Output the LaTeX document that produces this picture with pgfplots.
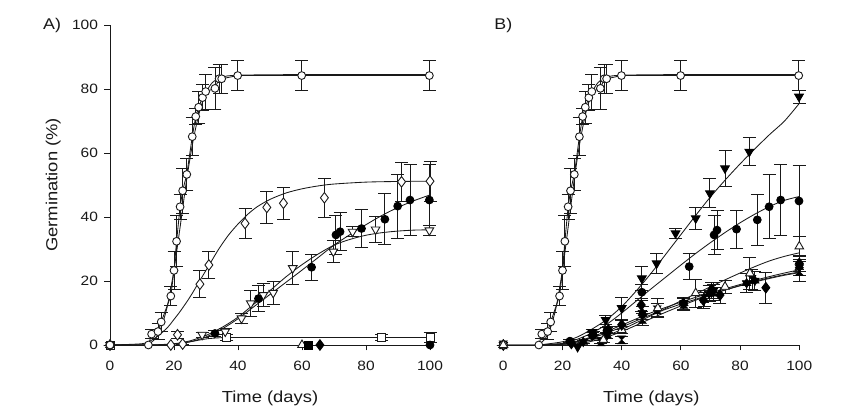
\documentclass[border=0pt]{standalone}
\usepackage{pgfplots}
\pgfplotsset{compat=1.18}
\usepackage{pgfplotstable}
\usepackage{fontspec}
\setmainfont{Liberation Sans}[FakeStretch=1.15]
\usetikzlibrary{plotmarks}

\pgfdeclareplotmark{hexstar}{%
 \pgfpathmoveto{\pgfqpointpolar{90}{\pgfplotmarksize}}%
 \pgfpathlineto{\pgfqpointpolar{210}{\pgfplotmarksize}}%
 \pgfpathlineto{\pgfqpointpolar{330}{\pgfplotmarksize}}%
 \pgfpathclose
 \pgfpathmoveto{\pgfqpointpolar{270}{\pgfplotmarksize}}%
 \pgfpathlineto{\pgfqpointpolar{390}{\pgfplotmarksize}}%
 \pgfpathlineto{\pgfqpointpolar{510}{\pgfplotmarksize}}%
 \pgfpathclose
 \pgfusepathqfillstroke}
\pgfdeclareplotmark{hourglass}{%
 \pgfpathmoveto{\pgfqpoint{-\pgfplotmarksize}{\pgfplotmarksize}}%
 \pgfpathlineto{\pgfqpoint{\pgfplotmarksize}{\pgfplotmarksize}}%
 \pgfpathlineto{\pgfqpoint{-\pgfplotmarksize}{-\pgfplotmarksize}}%
 \pgfpathlineto{\pgfqpoint{\pgfplotmarksize}{-\pgfplotmarksize}}%
 \pgfpathclose
 \pgfusepathqfillstroke}

% control (open circles), shared by A and B
\pgfplotstableread{
x y e
0 0 0
12 0 0
13 3.4 1.5
15 4.2 2.5
16 7.2 3
19 15.3 3
20 23.3 6
20.8 32.4 8
21.9 43.2 4
22.7 48.2 7
24 53.3 5
25.7 65.1 6
26.8 71.4 2.5
27.7 74.3 5
28.9 77.3 4
29.9 79.2 5.5
32.8 80.2 6.5
34.1 83.2 4.5
34.9 83.2 4.5
39.9 84.2 4.7
59.9 84.2 4.8
99.8 84.2 4.8
}\ctrl
% A: open diamonds
\pgfplotstableread{
x y e
0 0 0
19 0 0
21.1 3.2 1
22.7 0.3 0
28.1 19 4.2
30.9 25 4.3
42.2 38 4.7
49 43 5
54.2 44.3 5
67 46 6.2
91.1 51 6
100 51.2 6.2
}\Adia
% A: open inverted triangles
\pgfplotstableread{
x y e
0 0 0
28.8 3.2 0.8
36 4.2 1
41.1 8.3 1.5
44 13 4
47.9 15.6 3.5
51 16.3 3.5
57.1 24 5.2
69.8 29.2 3.5
75.8 35.4 1.5
83 36.1 4
99.8 35.8 1.5
}\Atri
% A: filled circles
\pgfplotstableread{
x y e
0 0 0
32.8 3.6 1
46.4 14.5 4
63 24.3 4
70.6 34.4 6
71.9 35.4 6
78.6 36.4 6
85.9 39.3 8
89.9 43.4 10
93.75 45.3 11
99.8 45.3 11
}\Acirc
% A: open squares
\pgfplotstableread{
x y e
0 0 0
36.5 2.4 1
84.9 2.3 1
100 2.3 1.5
}\Asq
% B: filled inverted triangles
\pgfplotstableread{
x y e
30 4 1
34.6 7.8 1.5
40 11.5 3.4
46.8 20.8 3.6
51.8 25.5 3
58.2 34.9 1.5
65 39.6 3.5
69.8 47.4 4.5
74.9 55.2 5.5
83.1 60.4 4.4
99.9 77.6 2
}\Btri
% B: filled circles
\pgfplotstableread{
x y e
0 0 0
22.5 1.2 0.5
30.4 3.1 1
35 4.5 1
46.8 16.5 2.5
62.8 24.5 4
71.2 34.4 6
72.2 35.9 6
78.8 36.2 6
85.8 39.1 8
89.8 43.2 10
93.7 45.3 11
99.9 45 11
}\Bcirc
% B: open triangles
\pgfplotstableread{
x y e
0 0 0
33.8 1.6 0.8
40 4.7 1.2
52.2 11.5 3
65 16.2 4.4
74.9 18.2 2
83.3 22.4 5
100 30.8 3
}\Bopt
% B: filled diamonds
\pgfplotstableread{
x y e
0 0 0
23 0.5 0.5
30 3 1
35.5 4.7 1
40 6.3 1.5
46.6 12.5 2
60.8 13 2
67.6 14 2.5
70.4 17.2 2.5
73.2 15.6 2.5
88.7 17.9 4.9
100 25.5 2.5
}\Bdia
% B: filled stars
\pgfplotstableread{
x y e
0 0 0
27 1 0.5
35 3 1
47 10 2
61 13 2
69.5 16 2.5
71 17 2.5
82.2 19.3 3
85 20.1 3
100 24.3 2.5
}\Bstar
% B: hourglass
\pgfplotstableread{
x y e
0 0 0
33 1 0.5
40 1.6 1
47 8 2
52 11 2
61 12.7 2
68 14.5 2.5
71 16.5 2.5
84 20.5 3
100 23 3
}\Bhour

\pgfplotsset{
 every axis/.append style={
  scale only axis, height=320pt,
  xmin=0, xmax=100, ymin=0, ymax=100,
  clip=false,
  tick align=outside,
  major tick length=5.5pt,
  xtick={0,20,...,100}, ytick={0,20,...,100},
  minor tick num=0,
  axis line style={line width=0.9pt, black!90},
  tick style={line width=0.9pt, black!90},
  /pgf/number format/assume math mode=true,
  tick label style={font=\fontsize{13.5}{15}\selectfont, text=black!90},
  xticklabel style={yshift=-7pt},
  yticklabel style={xshift=-3pt},
  label style={font=\fontsize{16}{18}\selectfont, text=black!90},
 },
 fit/.style={black!90, line width=0.85pt, smooth, no marks},
 pts/.style={black!90, line width=0.85pt, only marks,
   /pgfplots/error bars/y dir=both,
   /pgfplots/error bars/y explicit,
   /pgfplots/error bars/error bar style={line width=0.85pt, black!90},
   /pgfplots/error bars/error mark options={rotate=90, line width=0.85pt, black!90, mark size=6.5pt}},
 ocirc/.style={mark=*, mark size=3.9pt, mark options={fill=white, draw=black!90, line width=0.9pt}},
 fcirc/.style={mark=*, mark size=3.9pt, mark options={fill=black, draw=black, line width=0.9pt}},
 odia/.style={mark=diamond*, mark size=5.3pt, mark options={fill=white, draw=black!90, line width=0.9pt}},
 fdia/.style={mark=diamond*, mark size=5.3pt, mark options={fill=black, draw=black, line width=0.9pt}},
 otrid/.style={mark=triangle*, mark size=5pt, mark options={rotate=180, fill=white, draw=black!90, line width=0.9pt}},
 ftrid/.style={mark=triangle*, mark size=5pt, mark options={rotate=180, fill=black, draw=black, line width=0.9pt}},
 otriu/.style={mark=triangle*, mark size=5pt, mark options={fill=white, draw=black!90, line width=0.9pt}},
 osq/.style={mark=square*, mark size=4pt, mark options={fill=white, draw=black!90, line width=0.9pt}},
 fsq/.style={mark=square*, mark size=4pt, mark options={fill=black, draw=black, line width=0.9pt}},
 fstar/.style={mark=hexstar, mark size=5pt, mark options={fill=black, draw=black, line width=0.5pt}},
 fhour/.style={mark=hourglass, mark size=4pt, mark options={fill=black, draw=black, line width=0.5pt}},
}

\begin{document}
\begin{tikzpicture}
\path[use as bounding box] (0,0) rectangle (864pt,419pt);

% ================= Panel A =================
\begin{axis}[
  at={(110pt,74pt)}, anchor=south west, width=320pt,
  axis x line*=bottom, axis y line*=left,
  xlabel={Time (days)}, ylabel={Germination (\%)},
  xlabel style={at={(axis description cs:0.5,-0.166)}, anchor=center},
  ylabel style={at={(axis description cs:-0.177,0.5)}, anchor=center},
]
% zero baseline
\addplot[fit, sharp plot] coordinates {(0,0) (100,0)};
% fitted curves
\addplot[fit] coordinates {(0,0) (10,0) (12,0.3) (14,1.8) (16,5.5) (18,12.5) (20,23.5) (22,37.5) (24,52) (26,64) (28,73) (30,78.8) (32,82) (35,83.7) (40,84.3) (60,84.5) (100,84.5)};
\addplot[fit] coordinates {(0,0) (10,0.4) (13,1.5) (15,2.8) (18,5.5) (20,8) (22,10.6) (25,15) (28,20) (31,25) (34,30) (37,34.3) (40,37.8) (43,40.8) (46,43.2) (50,45.5) (55,47.5) (60,48.8) (65,49.7) (70,50.3) (80,50.9) (90,51.1) (100,51.2)};
\addplot[fit] coordinates {(0,0) (12,0) (20,0.4) (25,1.3) (30,3) (35,5.5) (40,8.7) (45,12.8) (50,17) (55,21.3) (60,25.1) (65,28.4) (70,31.2) (75,33) (80,34.3) (85,35.1) (90,35.6) (95,35.9) (100,36)};
\addplot[fit] coordinates {(0,0) (12,0) (20,0.3) (25,1) (30,2.5) (35,5) (40,8.2) (45,12) (50,15.8) (55,19.6) (60,23.4) (65,27.3) (70,31.2) (75,34.5) (80,37.6) (85,40.5) (90,43) (95,45.1) (100,46.9)};
\addplot[fit] coordinates {(0,0) (15,0) (20,0.3) (25,1) (30,1.9) (35,2.3) (40,2.35) (70,2.35) (100,2.35)};
% control: points joined by straight lines
\addplot[black!90, line width=0.85pt, sharp plot, no marks] table[x=x, y=y] {\ctrl};
% data with error bars
\addplot[pts, osq] table[x=x, y=y, y error=e] {\Asq};
\addplot[pts, otrid] table[x=x, y=y, y error=e] {\Atri};
\addplot[pts, fcirc] table[x=x, y=y, y error=e] {\Acirc};
\addplot[pts, odia] table[x=x, y=y, y error=e] {\Adia};
\addplot[pts, ocirc] table[x=x, y=y, y error=e] {\ctrl};
% treatments with no germination
\addplot[black, only marks, otriu] coordinates {(0,0) (60,0)};
\addplot[black, only marks, fsq] coordinates {(62,0)};
\addplot[black, only marks, fdia] coordinates {(65.6,0)};
\addplot[black, only marks, fcirc] coordinates {(100,0)};
\addplot[black, only marks, ocirc] coordinates {(0,0)};
\node[font=\fontsize{15.5}{18}\selectfont, text=black!90, anchor=center] at (axis description cs:-0.181,1.0) {A)};
\end{axis}

% ================= Panel B =================
\begin{axis}[
  at={(503.3pt,74pt)}, anchor=south west, width=296pt,
  axis x line*=bottom, axis y line=none,
  xlabel={Time (days)},
  xlabel style={at={(axis description cs:0.5,-0.166)}, anchor=center},
]
\addplot[fit, sharp plot] coordinates {(0,0) (100,0)};
% fitted curves
\addplot[fit] coordinates {(0,0) (10,0) (12,0.3) (14,1.8) (16,5.5) (18,12.5) (20,23.5) (22,37.5) (24,52) (26,64) (28,73) (30,78.8) (32,82) (35,83.7) (40,84.3) (60,84.5) (100,84.5)};
\addplot[fit] coordinates {(12,0) (20,1) (25,2.5) (30,5) (35,8) (40,12) (45,17) (50,22.5) (55,28.5) (60,34.5) (65,40.5) (70,46.3) (75,51.6) (80,56.6) (85,61.3) (90,65.8) (95,70) (100,75.5)};
\addplot[fit] coordinates {(12,0) (20,0.5) (25,1.8) (30,3.8) (35,6.5) (40,10) (45,13.8) (50,17.6) (55,21.3) (60,25) (65,28.6) (70,32) (75,35.2) (80,38.2) (85,40.9) (90,43.3) (95,45.2) (100,46.4)};
\addplot[fit] coordinates {(12,0) (20,0.2) (25,0.7) (30,1.6) (35,3) (40,4.8) (45,7) (50,9.2) (55,11.5) (60,13.8) (65,16) (70,18.2) (75,20.4) (80,22.5) (85,24.5) (90,26.3) (95,27.7) (100,28.8)};
\addplot[fit] coordinates {(12,0) (20,0.4) (25,1.2) (30,2.6) (35,4.3) (40,6.2) (45,8.2) (50,10.1) (55,11.8) (60,13.4) (65,14.9) (70,16.3) (75,17.6) (80,18.9) (85,20.2) (90,21.4) (95,22.5) (100,23.5)};
\addplot[fit] coordinates {(12,0) (20,0.3) (25,1) (30,2.2) (35,3.8) (40,5.6) (45,7.6) (50,9.5) (55,11.2) (60,12.8) (65,14.3) (70,15.8) (75,17.2) (80,18.5) (85,19.7) (90,20.8) (95,21.8) (100,22.6)};
\addplot[fit] coordinates {(12,0) (25,0.4) (30,1.2) (35,2.5) (40,4.2) (45,6.2) (50,8.3) (55,10.3) (60,12.2) (65,14) (70,15.7) (75,17.2) (80,18.6) (85,19.9) (90,21) (95,22) (100,22.8)};
\addplot[black!90, line width=0.85pt, sharp plot, no marks] table[x=x, y=y] {\ctrl};
% data with error bars
\addplot[pts, fhour] table[x=x, y=y, y error=e] {\Bhour};
\addplot[pts, fstar] table[x=x, y=y, y error=e] {\Bstar};
\addplot[pts, otriu] table[x=x, y=y, y error=e] {\Bopt};
\addplot[pts, fdia] table[x=x, y=y, y error=e] {\Bdia};
\addplot[pts, fcirc] table[x=x, y=y, y error=e] {\Bcirc};
\addplot[pts, ftrid] table[x=x, y=y, y error=e] {\Btri};
\addplot[black, only marks, ftrid] coordinates {(25.1,-0.6)};
\addplot[pts, ocirc] table[x=x, y=y, y error=e] {\ctrl};
\addplot[black, only marks, otriu] coordinates {(0,0)};
\node[font=\fontsize{15.5}{18}\selectfont, text=black!90, anchor=center] at (axis description cs:0,0.997) {B)};
\end{axis}
\end{tikzpicture}
\end{document}
